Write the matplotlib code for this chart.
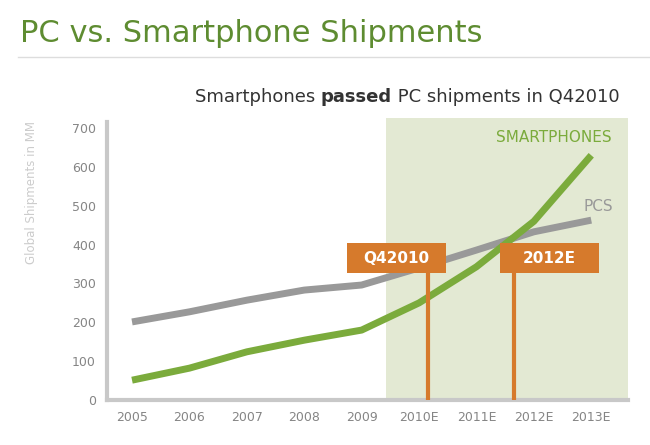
import matplotlib.pyplot as plt

# data (millions of units)
years = ['2005', '2006', '2007', '2008', '2009', '2010E', '2011E', '2012E', '2013E']
pcs = [201, 227, 257, 283, 296, 340, 386, 433, 463]
smartphones = [51, 82, 124, 154, 180, 250, 343, 460, 630]
yticks = [0, 100, 200, 300, 400, 500, 600, 700]

# callouts: (label, x position of the stem in year-index units)
callouts = [('Q42010', 5.16), ('2012E', 6.66)]
forecast_start = 4.43

GREEN = '#7bab3c'
GRAY = '#999999'
ORANGE = '#d67a2c'
SHADE = '#e3e9d3'

plt.rcParams['font.family'] = ['DejaVu Sans']

fig = plt.figure(figsize=(6.5, 4.45), dpi=100)
ax = fig.add_axes([107 / 650, 45 / 445, 521 / 650, 282 / 445])

x = list(range(len(years)))
ax.axvspan(forecast_start, 8.7, color=SHADE, zorder=0, lw=0)
ax.plot(x, pcs, color=GRAY, lw=5, solid_capstyle='butt', zorder=2)
ax.plot(x, smartphones, color=GREEN, lw=5, solid_capstyle='butt', zorder=3)

# orange callout boxes with stems
box_w = 1.72
for label, xs in callouts:
    if label == 'Q42010':
        bx = 3.745
    else:
        bx = 6.41
    ax.plot([xs, xs], [0, 330], color=ORANGE, lw=3, zorder=4, solid_capstyle='butt')
    ax.add_patch(plt.Rectangle((bx, 327), box_w, 77, color=ORANGE, zorder=5, lw=0))
    ax.text(bx + box_w / 2, 365, label, color='white', fontsize=11, fontweight='bold',
            ha='center', va='center', zorder=6)

ax.text(8.35, 677, 'SMARTPHONES', color=GREEN, fontsize=11, ha='right', va='center')
ax.text(8.38, 497, 'PCS', color=GRAY, fontsize=11, ha='right', va='center')

ax.set_xlim(-0.436, 8.64)
ax.set_ylim(0, 726)
ax.set_xticks(x)
ax.set_xticklabels(years)
ax.set_yticks(yticks)
ax.tick_params(length=0, colors='#858585', labelsize=9)
ax.tick_params(axis='x', pad=8)
ax.tick_params(axis='y', pad=8)
for s in ['top', 'right']:
    ax.spines[s].set_visible(False)
for s in ['left', 'bottom']:
    ax.spines[s].set_color('#c8c8c8')
    ax.spines[s].set_linewidth(3)
ax.spines['left'].set_bounds(0, 715)

fig.text(32 / 650, 1 - 193 / 445, 'Global Shipments in MM', rotation=90,
         color='#cccccc', fontsize=8.5, ha='center', va='center')

# title and rule
fig.text(20 / 650, 1 - 33 / 445, 'PC vs. Smartphone Shipments', color='#5e8c31',
         fontsize=22, ha='left', va='center')
fig.add_artist(plt.Line2D([18 / 650, 1], [1 - 57 / 445, 1 - 57 / 445], color='#dddddd', lw=1))

# subtitle with bold word
t1 = fig.text(195 / 650, 1 - 97 / 445, 'Smartphones ', color='#333333', fontsize=13,
              ha='left', va='center')
t2 = fig.text(0, 0, 'passed', color='#333333', fontsize=13, fontweight='bold')
t3 = fig.text(0, 0, ' PC shipments in Q42010', color='#333333', fontsize=13)
fig.canvas.draw()
r = fig.canvas.get_renderer()
bb1 = t1.get_window_extent(r)
t2.set_position((bb1.x1 / 650, bb1.y0 / 445))
t2.set_va('bottom')
fig.canvas.draw()
bb2 = t2.get_window_extent(r)
t3.set_position((bb2.x1 / 650, bb1.y0 / 445))
t3.set_va('bottom')

fig.savefig('out.png', dpi=100)
